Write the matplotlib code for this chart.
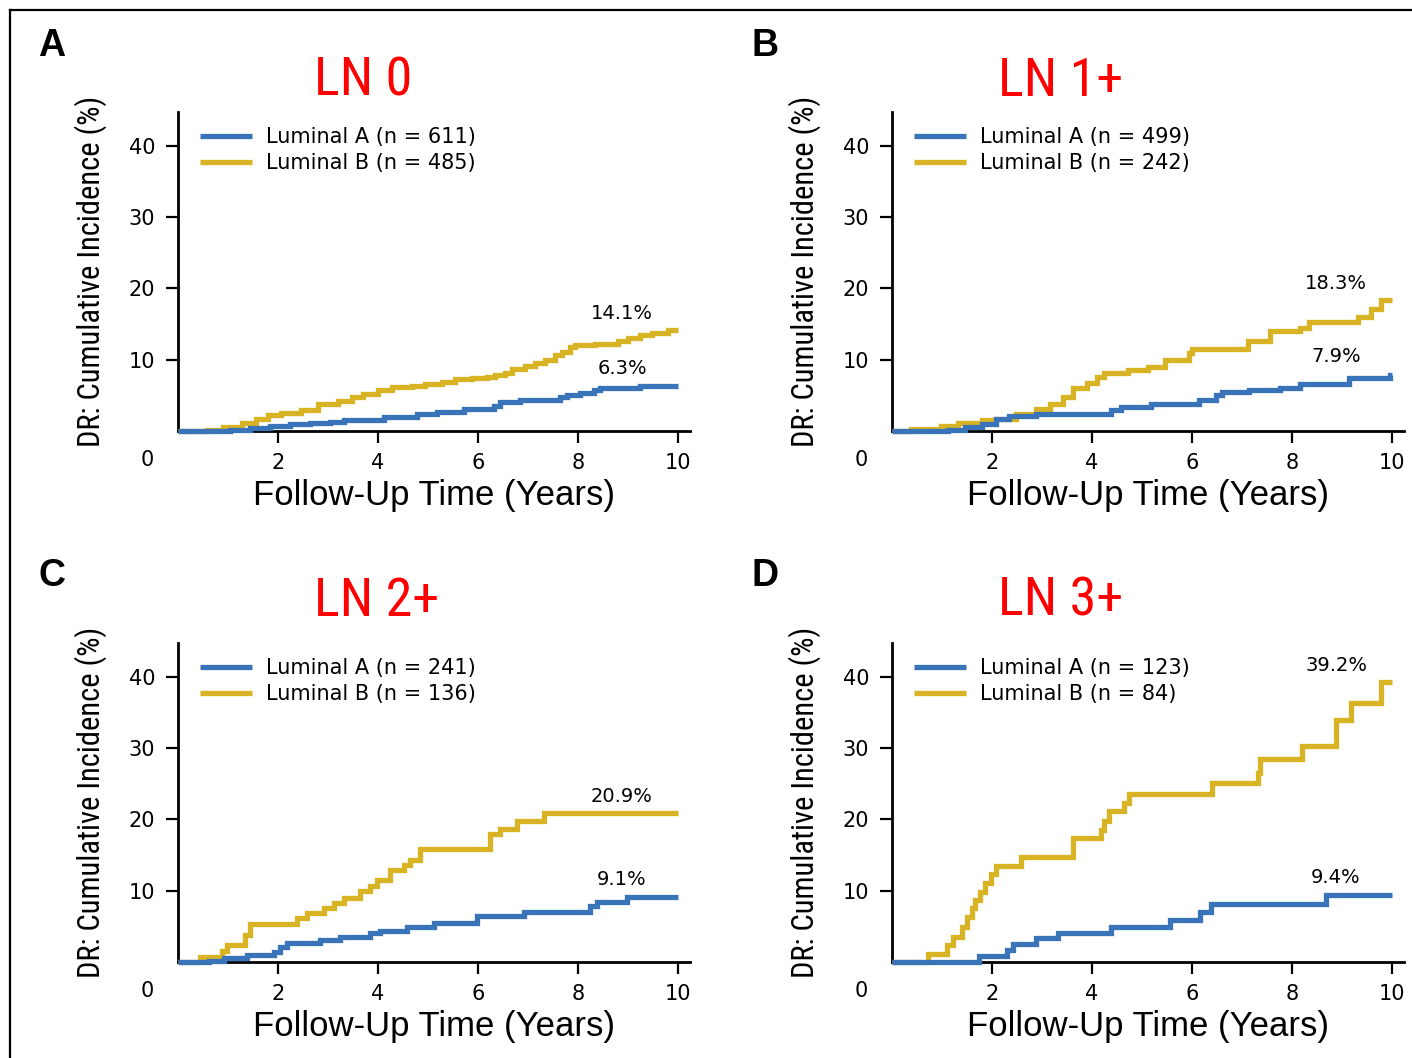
import matplotlib
matplotlib.use("Agg")
import matplotlib.pyplot as plt
from matplotlib import font_manager
from matplotlib.lines import Line2D

BLUE = "#3A74B8"
GOLD = "#D8B323"

# ---- Panel A: LN 0 ----
a_lumA_t = [1.04, 1.44, 1.84, 2.24, 2.64, 3.04, 3.31, 4.11, 4.77, 5.17, 5.71, 6.31, 6.44,
            6.84, 7.64, 7.77, 8.04, 8.31, 8.44, 9.24]
a_lumA_v = [0.15, 0.4, 0.75, 0.95, 1.1, 1.3, 1.55, 2.0, 2.45, 2.7, 3.15, 3.5, 4.1,
            4.35, 4.8, 5.05, 5.3, 5.75, 6.0, 6.3]
a_lumB_t = [0.57, 0.9, 1.27, 1.55, 1.79, 2.05, 2.45, 2.79, 3.2, 3.47, 3.7, 4.0, 4.27, 4.67,
            4.93, 5.27, 5.53, 5.87, 6.17, 6.33, 6.53, 6.67, 6.93, 7.13, 7.33, 7.53, 7.67,
            7.83, 7.93, 8.33, 8.8, 9.0, 9.23, 9.47, 9.8]
a_lumB_v = [0.15, 0.6, 1.15, 1.75, 2.25, 2.55, 2.95, 3.8, 4.25, 4.7, 5.25, 5.8, 6.1, 6.3,
            6.55, 6.9, 7.3, 7.4, 7.5, 7.8, 8.15, 8.75, 9.1, 9.55, 10.0, 10.6, 11.1,
            11.8, 12.0, 12.2, 12.6, 13.0, 13.4, 13.7, 14.1]

# ---- Panel B: LN 1+ ----
b_lumA_t = [1.12, 1.46, 1.80, 2.07, 2.34, 2.88, 4.37, 4.57, 5.18, 6.13, 6.47, 6.60, 7.14,
            7.75, 8.16, 9.14, 9.95]
b_lumA_v = [0.1, 0.55, 1.05, 1.75, 2.1, 2.45, 2.9, 3.4, 3.85, 4.35, 5.05, 5.4, 5.75,
            6.0, 6.6, 7.4, 7.9]
b_lumB_t = [0.38, 0.98, 1.32, 1.80, 2.07, 2.47, 2.88, 3.15, 3.42, 3.62, 3.90, 4.10, 4.23,
            4.71, 5.11, 5.45, 5.93, 5.99, 7.11, 7.55, 8.16, 8.33, 9.31, 9.58, 9.78]
b_lumB_v = [0.35, 0.7, 1.1, 1.5, 1.75, 2.35, 3.15, 3.75, 4.7, 6.0, 6.7, 7.6, 8.1,
            8.5, 8.95, 10.0, 10.9, 11.5, 12.6, 14.0, 14.5, 15.3, 16.0, 17.1, 18.3]

# ---- Panel C: LN 2+ ----
c_lumA_t = [0.61, 0.91, 1.37, 1.91, 2.04, 2.17, 2.84, 3.24, 3.84, 4.04, 4.57, 5.11, 5.97,
            6.91, 8.24, 8.37, 8.97]
c_lumA_v = [0.2, 0.5, 1.0, 1.45, 2.15, 2.6, 3.1, 3.55, 4.0, 4.4, 4.95, 5.5, 6.45,
            7.05, 7.85, 8.45, 9.1]
c_lumB_t = [0.44, 0.87, 0.97, 1.34, 1.44, 2.37, 2.57, 2.91, 3.11, 3.31, 3.64, 3.84, 3.97,
            4.24, 4.51, 4.64, 4.84, 6.24, 6.44, 6.77, 7.31]
c_lumB_v = [0.75, 1.6, 2.4, 3.8, 5.3, 6.1, 6.8, 7.5, 8.2, 8.9, 9.9, 10.6, 11.5,
            12.9, 13.6, 14.3, 15.9, 18.0, 18.7, 19.7, 20.9]

# ---- Panel D: LN 3+ ----
d_lumA_t = [1.73, 2.30, 2.41, 2.88, 3.32, 4.37, 5.55, 6.16, 6.37, 8.67]
d_lumA_v = [0.8, 1.65, 2.5, 3.3, 4.1, 4.95, 5.9, 7.05, 8.1, 9.4]
d_lumB_t = [0.71, 1.09, 1.22, 1.39, 1.49, 1.59, 1.66, 1.76, 1.86, 1.97, 2.07, 2.58, 3.62,
            4.17, 4.23, 4.34, 4.64, 4.74, 6.40, 7.31, 7.35, 8.19, 8.87, 9.17, 9.78]
d_lumB_v = [1.1, 2.35, 3.5, 4.9, 6.3, 7.5, 8.7, 9.85, 11.0, 12.3, 13.5, 14.7, 17.4,
            18.5, 19.8, 21.1, 22.3, 23.6, 25.1, 26.5, 28.4, 30.2, 33.9, 36.3, 39.2]

panel_letters = ["A", "B", "C", "D"]
panel_titles = ["LN 0", "LN 1+", "LN 2+", "LN 3+"]
n_lumA = [611, 499, 241, 123]
n_lumB = [485, 242, 136, 84]
x_ticks = [2, 4, 6, 8, 10]
y_ticks = [10, 20, 30, 40]

curves = [
    (a_lumA_t, a_lumA_v, a_lumB_t, a_lumB_v),
    (b_lumA_t, b_lumA_v, b_lumB_t, b_lumB_v),
    (c_lumA_t, c_lumA_v, c_lumB_t, c_lumB_v),
    (d_lumA_t, d_lumA_v, d_lumB_t, d_lumB_v),
]
# vertical placement of the end-of-curve percentage labels (data units)
label_y = [(8.7, 16.5), (10.4, 20.7), (11.6, 23.2), (11.9, 41.6)]

names = {f.name for f in font_manager.fontManager.ttflist}
NARROW = "Roboto Condensed" if "Roboto Condensed" in names else "Liberation Sans"
plt.rcParams["font.family"] = ["DejaVu Sans"]

W, H = 1412, 1058
fig = plt.figure(figsize=(W / 100, H / 100), dpi=100)
fig.patch.set_facecolor("white")

# frame lines along the top and left edges
fig.add_artist(Line2D([10 / W, 1], [1 - 10 / H, 1 - 10 / H], color="black", lw=1.6,
                      transform=fig.transFigure))
fig.add_artist(Line2D([10 / W, 10 / W], [0, 1 - 10 / H], color="black", lw=1.6,
                      transform=fig.transFigure))

XMAX, YMAX = 10.24, 44.7
ax_w, ax_h = 512, 319
origins = [(178, 431), (892, 431), (178, 962), (892, 962)]  # (left, bottom) in px from top


def step_xy(t, v):
    xs = [0.0] + list(t) + [10.0]
    ys = [0.0] + list(v) + [v[-1]]
    return xs, ys


for i in range(4):
    left, bottom = origins[i]
    ax = fig.add_axes([left / W, (H - bottom) / H, ax_w / W, ax_h / H])
    ta, va, tb, vb = curves[i]

    xa, ya = step_xy(ta, va)
    xb, yb = step_xy(tb, vb)
    ax.step(xa, ya, where="post", color=BLUE, lw=3.8, zorder=4, clip_on=False,
            solid_joinstyle="miter", solid_capstyle="butt",
            label=f"Luminal A (n = {n_lumA[i]})")
    ax.step(xb, yb, where="post", color=GOLD, lw=3.8, zorder=3, clip_on=False,
            solid_joinstyle="miter", solid_capstyle="butt",
            label=f"Luminal B (n = {n_lumB[i]})")

    ax.set_xlim(0, XMAX)
    ax.set_ylim(0, YMAX)
    for s in ("top", "right"):
        ax.spines[s].set_visible(False)
    for s in ("left", "bottom"):
        ax.spines[s].set_linewidth(2.0)
        ax.spines[s].set_zorder(2)
    ax.set_xticks(x_ticks)
    ax.set_yticks(y_ticks)
    ax.tick_params(axis="both", direction="out", length=8.5, width=1.6, labelsize=15)
    ax.tick_params(axis="x", pad=7)
    ax.tick_params(axis="y", pad=8)
    ax.text(-0.62, -4.0, "0", ha="center", va="center", fontsize=15, clip_on=False)

    ax.set_xlabel("Follow-Up Time (Years)", fontsize=25, family="Liberation Sans")
    ax.xaxis.set_label_coords(0.5, -0.152)
    ax.set_ylabel("DR: Cumulative Incidence (%)", fontsize=22, family=NARROW)
    ax.yaxis.set_label_coords(-0.138, 0.5)

    ax.legend(loc="upper left", bbox_to_anchor=(0.043, 0.953), frameon=False,
              fontsize=15, handlelength=2.5, handletextpad=0.65, labelspacing=0.3,
              borderpad=0, borderaxespad=0)

    ya_lab, yb_lab = label_y[i]
    ax.text(8.88, ya_lab, f"{va[-1]:.1f}%", ha="center", va="center", fontsize=14)
    ax.text(8.88, yb_lab, f"{vb[-1]:.1f}%", ha="center", va="center", fontsize=14)

    # panel letter and red nodal-status heading
    top_px = 28 if i < 2 else 558
    lx = 38 if i % 2 == 0 else 752
    fig.text(lx / W, 1 - top_px / H, panel_letters[i], ha="left", va="top",
             fontsize=27, fontweight="bold", family="Liberation Sans")
    tx = 314 if i % 2 == 0 else 998
    ty = 81 if i < 2 else 601
    fig.text(tx / W, 1 - ty / H, panel_titles[i], ha="left", va="center",
             fontsize=39, color="#FF0000", family=NARROW)

fig.savefig("out.png", dpi=100)
